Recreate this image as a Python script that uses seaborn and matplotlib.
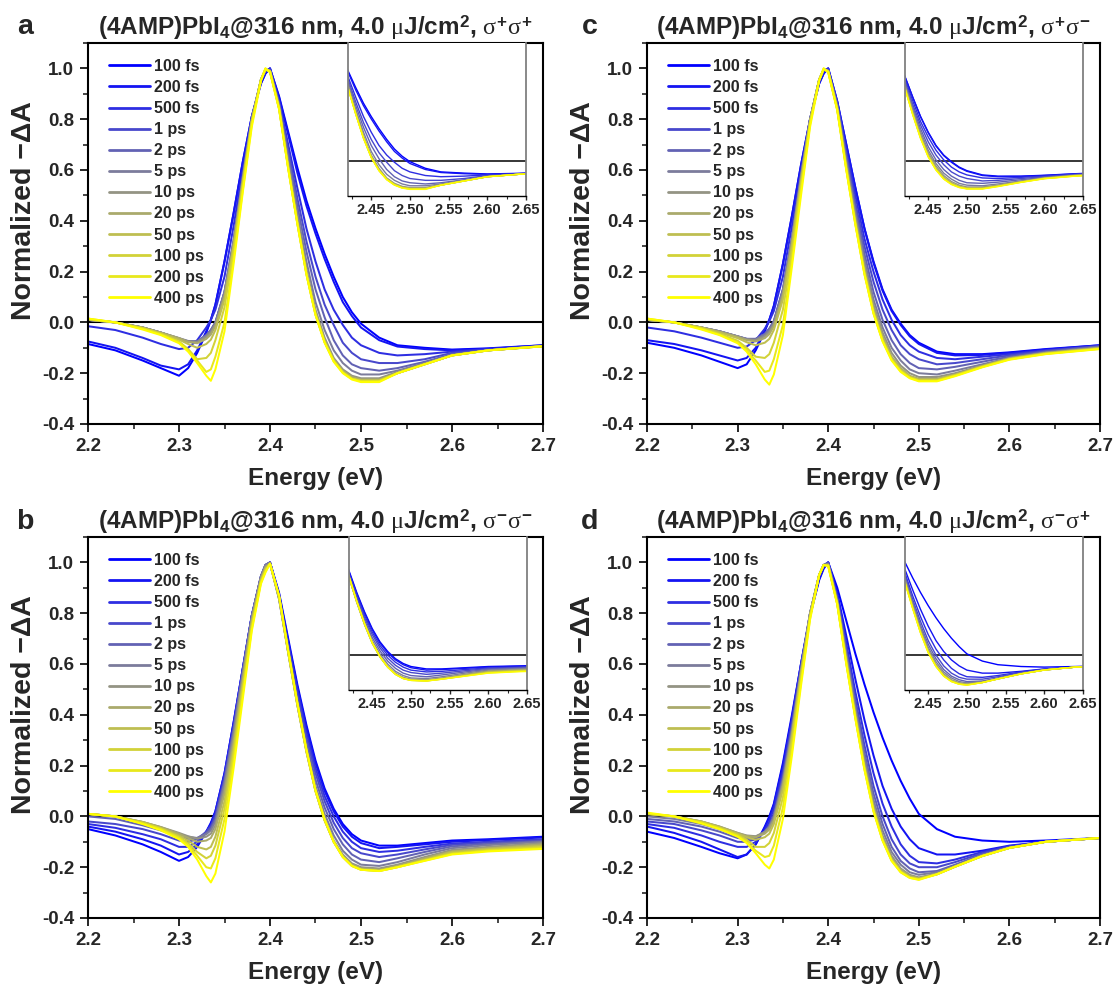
import matplotlib
matplotlib.use("Agg")
import matplotlib.pyplot as plt
import numpy as np
import pandas as pd
import seaborn as sns
from matplotlib.ticker import MultipleLocator, FormatStrFormatter

# ---------------- data ----------------
energy = [2.20, 2.23, 2.26, 2.28, 2.30, 2.31, 2.32, 2.33, 2.335, 2.34, 2.35, 2.36, 2.37,
          2.38, 2.39, 2.395, 2.40, 2.41, 2.42, 2.43, 2.44, 2.45, 2.46, 2.47, 2.48, 2.49,
          2.50, 2.52, 2.54, 2.57, 2.60, 2.64, 2.70]

delays = ["100 fs", "200 fs", "500 fs", "1 ps", "2 ps", "5 ps", "10 ps", "20 ps",
          "50 ps", "100 ps", "200 ps", "400 ps"]

delay_colors = ["#0000ff", "#1414f2", "#2e2ee2", "#4848cc", "#6262b4", "#7c7c9c",
                "#949484", "#aaaa6c", "#bebe52", "#d2d238", "#e8e81c", "#ffff00"]

# panel a: sigma+ sigma+
spec_a = [
    [-0.085, -0.11, -0.15, -0.18, -0.21, -0.18, -0.12, -0.04, 0.01, 0.07, 0.24, 0.43, 0.63, 0.81, 0.94, 0.98, 1.00, 0.89, 0.75, 0.61, 0.48, 0.37, 0.27, 0.18, 0.10, 0.04, -0.005, -0.06, -0.09, -0.10, -0.107, -0.102, -0.09],
    [-0.075, -0.10, -0.14, -0.17, -0.185, -0.165, -0.11, -0.035, 0.01, 0.07, 0.24, 0.43, 0.63, 0.81, 0.94, 0.98, 1.00, 0.885, 0.74, 0.59, 0.46, 0.35, 0.25, 0.16, 0.08, 0.025, -0.02, -0.07, -0.095, -0.105, -0.11, -0.104, -0.09],
    [-0.015, -0.03, -0.06, -0.085, -0.105, -0.10, -0.07, -0.02, 0.01, 0.05, 0.18, 0.38, 0.60, 0.81, 0.95, 0.99, 1.00, 0.87, 0.70, 0.53, 0.37, 0.24, 0.13, 0.05, -0.01, -0.06, -0.09, -0.12, -0.13, -0.125, -0.115, -0.105, -0.092],
    [0.01, 0.0, -0.02, -0.04, -0.065, -0.075, -0.075, -0.05, -0.03, 0.0, 0.12, 0.32, 0.57, 0.80, 0.95, 0.99, 0.995, 0.865, 0.68, 0.49, 0.32, 0.18, 0.07, -0.01, -0.08, -0.12, -0.145, -0.16, -0.16, -0.145, -0.12, -0.108, -0.093],
    [0.01, 0.0, -0.02, -0.04, -0.065, -0.075, -0.075, -0.05, -0.03, 0.0, 0.12, 0.32, 0.57, 0.80, 0.955, 0.995, 0.99, 0.86, 0.66, 0.46, 0.28, 0.13, 0.02, -0.07, -0.13, -0.165, -0.18, -0.19, -0.18, -0.155, -0.125, -0.11, -0.093],
    [0.01, 0.0, -0.02, -0.04, -0.062, -0.073, -0.075, -0.052, -0.032, -0.002, 0.12, 0.32, 0.57, 0.80, 0.955, 0.995, 0.99, 0.855, 0.64, 0.43, 0.24, 0.08, -0.03, -0.11, -0.16, -0.19, -0.205, -0.205, -0.19, -0.16, -0.128, -0.11, -0.093],
    [0.01, 0.0, -0.02, -0.04, -0.062, -0.075, -0.078, -0.058, -0.04, -0.008, 0.11, 0.31, 0.56, 0.80, 0.955, 0.995, 0.99, 0.85, 0.625, 0.41, 0.21, 0.05, -0.06, -0.14, -0.185, -0.21, -0.22, -0.22, -0.195, -0.163, -0.13, -0.11, -0.093],
    [0.01, 0.0, -0.02, -0.04, -0.062, -0.077, -0.082, -0.065, -0.048, -0.015, 0.10, 0.30, 0.55, 0.79, 0.955, 0.995, 0.99, 0.845, 0.615, 0.40, 0.20, 0.04, -0.07, -0.145, -0.19, -0.215, -0.225, -0.225, -0.20, -0.165, -0.13, -0.11, -0.093],
    [0.012, 0.0, -0.022, -0.042, -0.068, -0.085, -0.10, -0.085, -0.068, -0.03, 0.09, 0.30, 0.55, 0.79, 0.955, 0.995, 0.99, 0.845, 0.61, 0.395, 0.195, 0.035, -0.075, -0.15, -0.195, -0.22, -0.228, -0.228, -0.20, -0.165, -0.13, -0.11, -0.094],
    [0.012, 0.0, -0.022, -0.045, -0.075, -0.105, -0.145, -0.14, -0.12, -0.07, 0.06, 0.28, 0.54, 0.79, 0.955, 0.995, 0.99, 0.84, 0.61, 0.39, 0.19, 0.03, -0.078, -0.152, -0.197, -0.222, -0.23, -0.23, -0.20, -0.165, -0.13, -0.11, -0.094],
    [0.015, 0.0, -0.025, -0.047, -0.078, -0.11, -0.15, -0.195, -0.185, -0.135, 0.0, 0.25, 0.52, 0.78, 0.955, 1.0, 0.985, 0.84, 0.605, 0.39, 0.19, 0.03, -0.078, -0.152, -0.197, -0.222, -0.232, -0.232, -0.20, -0.165, -0.13, -0.11, -0.094],
    [0.015, 0.0, -0.028, -0.05, -0.082, -0.115, -0.16, -0.21, -0.23, -0.185, -0.035, 0.23, 0.51, 0.77, 0.95, 1.0, 0.985, 0.84, 0.605, 0.39, 0.19, 0.03, -0.08, -0.155, -0.20, -0.225, -0.235, -0.235, -0.20, -0.165, -0.13, -0.11, -0.094],
]

# panel b: sigma- sigma-
spec_b = [
    [-0.05, -0.075, -0.11, -0.14, -0.175, -0.16, -0.12, -0.06, -0.025, 0.02, 0.17, 0.37, 0.58, 0.79, 0.94, 0.985, 1.0, 0.88, 0.70, 0.52, 0.36, 0.22, 0.11, 0.03, -0.03, -0.07, -0.095, -0.115, -0.115, -0.105, -0.095, -0.09, -0.08],
    [-0.04, -0.06, -0.09, -0.115, -0.15, -0.14, -0.11, -0.06, -0.03, 0.02, 0.17, 0.37, 0.58, 0.79, 0.94, 0.985, 1.0, 0.875, 0.69, 0.51, 0.35, 0.21, 0.10, 0.02, -0.04, -0.08, -0.105, -0.125, -0.12, -0.11, -0.10, -0.093, -0.083],
    [-0.03, -0.045, -0.07, -0.09, -0.12, -0.12, -0.10, -0.06, -0.035, 0.01, 0.16, 0.36, 0.58, 0.79, 0.945, 0.99, 1.0, 0.87, 0.68, 0.50, 0.33, 0.19, 0.08, 0.0, -0.06, -0.10, -0.125, -0.14, -0.135, -0.12, -0.107, -0.10, -0.09],
    [-0.02, -0.03, -0.05, -0.07, -0.095, -0.10, -0.09, -0.06, -0.04, 0.0, 0.15, 0.35, 0.57, 0.79, 0.945, 0.99, 1.0, 0.865, 0.67, 0.48, 0.31, 0.17, 0.06, -0.025, -0.085, -0.125, -0.145, -0.16, -0.15, -0.13, -0.112, -0.103, -0.093],
    [0.0, -0.01, -0.035, -0.055, -0.08, -0.088, -0.085, -0.065, -0.048, -0.01, 0.14, 0.34, 0.57, 0.79, 0.945, 0.99, 1.0, 0.86, 0.66, 0.46, 0.29, 0.145, 0.035, -0.05, -0.11, -0.15, -0.17, -0.18, -0.165, -0.14, -0.118, -0.108, -0.097],
    [0.01, 0.0, -0.025, -0.045, -0.07, -0.08, -0.085, -0.07, -0.055, -0.02, 0.13, 0.33, 0.56, 0.785, 0.945, 0.99, 1.0, 0.855, 0.65, 0.45, 0.27, 0.12, 0.01, -0.075, -0.135, -0.17, -0.19, -0.195, -0.18, -0.15, -0.125, -0.113, -0.10],
    [0.01, 0.0, -0.022, -0.042, -0.065, -0.078, -0.088, -0.08, -0.068, -0.035, 0.11, 0.31, 0.55, 0.78, 0.94, 0.985, 0.995, 0.855, 0.645, 0.44, 0.26, 0.105, -0.01, -0.095, -0.15, -0.185, -0.20, -0.205, -0.19, -0.16, -0.132, -0.12, -0.105],
    [0.01, 0.0, -0.022, -0.042, -0.068, -0.085, -0.10, -0.095, -0.085, -0.05, 0.09, 0.29, 0.53, 0.77, 0.935, 0.98, 0.995, 0.86, 0.645, 0.44, 0.255, 0.10, -0.015, -0.10, -0.155, -0.19, -0.205, -0.21, -0.195, -0.165, -0.137, -0.125, -0.11],
    [0.01, 0.0, -0.022, -0.045, -0.075, -0.095, -0.12, -0.13, -0.12, -0.08, 0.06, 0.27, 0.52, 0.76, 0.93, 0.975, 0.995, 0.86, 0.645, 0.44, 0.255, 0.10, -0.015, -0.10, -0.158, -0.193, -0.208, -0.213, -0.198, -0.17, -0.14, -0.128, -0.115],
    [0.01, 0.0, -0.025, -0.048, -0.08, -0.105, -0.14, -0.165, -0.155, -0.115, 0.03, 0.25, 0.50, 0.75, 0.925, 0.97, 0.995, 0.865, 0.65, 0.445, 0.26, 0.10, -0.015, -0.10, -0.16, -0.195, -0.21, -0.215, -0.20, -0.172, -0.145, -0.132, -0.12],
    [0.01, 0.0, -0.028, -0.05, -0.085, -0.112, -0.155, -0.20, -0.205, -0.165, -0.01, 0.22, 0.48, 0.74, 0.92, 0.965, 0.995, 0.865, 0.65, 0.445, 0.26, 0.10, -0.015, -0.10, -0.16, -0.195, -0.21, -0.215, -0.20, -0.174, -0.148, -0.135, -0.125],
    [0.01, 0.0, -0.03, -0.055, -0.09, -0.12, -0.17, -0.235, -0.26, -0.225, -0.06, 0.19, 0.46, 0.73, 0.915, 0.96, 0.995, 0.87, 0.655, 0.45, 0.265, 0.105, -0.01, -0.10, -0.16, -0.195, -0.21, -0.215, -0.20, -0.175, -0.15, -0.138, -0.128],
]

# panel c: sigma+ sigma-
spec_c = [
    [-0.08, -0.10, -0.13, -0.155, -0.18, -0.165, -0.11, -0.035, 0.01, 0.065, 0.23, 0.42, 0.62, 0.80, 0.94, 0.98, 1.0, 0.87, 0.70, 0.53, 0.37, 0.24, 0.13, 0.05, -0.005, -0.05, -0.08, -0.115, -0.125, -0.125, -0.118, -0.105, -0.09],
    [-0.07, -0.085, -0.11, -0.13, -0.15, -0.14, -0.10, -0.03, 0.01, 0.065, 0.23, 0.42, 0.62, 0.80, 0.94, 0.98, 1.0, 0.87, 0.70, 0.53, 0.37, 0.235, 0.125, 0.045, -0.01, -0.055, -0.085, -0.12, -0.13, -0.128, -0.12, -0.107, -0.09],
    [-0.02, -0.035, -0.06, -0.08, -0.10, -0.095, -0.07, -0.025, 0.005, 0.045, 0.18, 0.38, 0.60, 0.80, 0.95, 0.99, 1.0, 0.865, 0.68, 0.50, 0.33, 0.20, 0.09, 0.01, -0.05, -0.09, -0.115, -0.14, -0.145, -0.135, -0.125, -0.11, -0.092],
    [0.01, 0.0, -0.02, -0.035, -0.055, -0.065, -0.065, -0.045, -0.025, 0.005, 0.13, 0.33, 0.58, 0.80, 0.955, 0.995, 0.995, 0.86, 0.665, 0.47, 0.30, 0.16, 0.05, -0.03, -0.09, -0.125, -0.145, -0.165, -0.16, -0.145, -0.13, -0.112, -0.093],
    [0.01, 0.0, -0.02, -0.035, -0.055, -0.065, -0.065, -0.045, -0.025, 0.005, 0.13, 0.33, 0.58, 0.80, 0.955, 0.995, 0.99, 0.855, 0.65, 0.45, 0.27, 0.12, 0.01, -0.07, -0.125, -0.16, -0.18, -0.185, -0.175, -0.155, -0.135, -0.115, -0.095],
    [0.01, 0.0, -0.02, -0.035, -0.055, -0.065, -0.067, -0.048, -0.03, 0.0, 0.125, 0.33, 0.575, 0.80, 0.955, 0.995, 0.99, 0.85, 0.635, 0.43, 0.245, 0.09, -0.02, -0.10, -0.15, -0.185, -0.20, -0.205, -0.19, -0.165, -0.14, -0.118, -0.097],
    [0.01, 0.0, -0.02, -0.035, -0.055, -0.067, -0.07, -0.055, -0.038, -0.007, 0.115, 0.32, 0.57, 0.80, 0.955, 0.995, 0.99, 0.845, 0.625, 0.415, 0.225, 0.07, -0.04, -0.12, -0.17, -0.20, -0.215, -0.215, -0.20, -0.17, -0.14, -0.12, -0.10],
    [0.01, 0.0, -0.02, -0.037, -0.057, -0.07, -0.075, -0.062, -0.046, -0.015, 0.105, 0.31, 0.56, 0.79, 0.955, 0.995, 0.99, 0.84, 0.615, 0.40, 0.21, 0.055, -0.055, -0.135, -0.18, -0.21, -0.222, -0.222, -0.205, -0.172, -0.142, -0.12, -0.10],
    [0.01, 0.0, -0.02, -0.04, -0.062, -0.078, -0.09, -0.08, -0.065, -0.03, 0.09, 0.30, 0.55, 0.79, 0.955, 0.995, 0.99, 0.84, 0.61, 0.395, 0.20, 0.045, -0.065, -0.14, -0.185, -0.213, -0.225, -0.225, -0.207, -0.173, -0.143, -0.122, -0.102],
    [0.012, 0.0, -0.022, -0.045, -0.072, -0.10, -0.135, -0.14, -0.125, -0.08, 0.05, 0.27, 0.54, 0.79, 0.955, 0.995, 0.99, 0.84, 0.605, 0.39, 0.195, 0.04, -0.07, -0.145, -0.19, -0.215, -0.228, -0.228, -0.208, -0.175, -0.145, -0.123, -0.103],
    [0.015, 0.0, -0.025, -0.048, -0.078, -0.11, -0.15, -0.195, -0.19, -0.145, -0.01, 0.24, 0.52, 0.78, 0.955, 1.0, 0.985, 0.835, 0.60, 0.385, 0.19, 0.035, -0.072, -0.148, -0.192, -0.218, -0.23, -0.23, -0.21, -0.175, -0.145, -0.124, -0.104],
    [0.015, 0.0, -0.028, -0.05, -0.082, -0.115, -0.165, -0.225, -0.245, -0.205, -0.05, 0.22, 0.50, 0.77, 0.95, 1.0, 0.985, 0.835, 0.60, 0.385, 0.19, 0.035, -0.075, -0.15, -0.195, -0.22, -0.232, -0.232, -0.212, -0.177, -0.147, -0.125, -0.105],
]

# panel d: sigma- sigma+
spec_d = [
    [-0.06, -0.085, -0.12, -0.145, -0.165, -0.15, -0.11, -0.04, 0.0, 0.05, 0.21, 0.40, 0.60, 0.79, 0.93, 0.975, 1.0, 0.90, 0.77, 0.64, 0.52, 0.41, 0.31, 0.22, 0.14, 0.07, 0.01, -0.05, -0.08, -0.095, -0.10, -0.095, -0.085],
    [-0.04, -0.065, -0.10, -0.13, -0.16, -0.15, -0.11, -0.045, -0.005, 0.045, 0.20, 0.39, 0.60, 0.79, 0.935, 0.98, 1.0, 0.88, 0.71, 0.54, 0.38, 0.24, 0.12, 0.03, -0.04, -0.09, -0.125, -0.15, -0.15, -0.135, -0.115, -0.10, -0.085],
    [-0.03, -0.045, -0.075, -0.10, -0.12, -0.12, -0.10, -0.055, -0.02, 0.03, 0.18, 0.38, 0.60, 0.80, 0.945, 0.985, 1.0, 0.87, 0.68, 0.49, 0.32, 0.17, 0.05, -0.04, -0.11, -0.155, -0.18, -0.185, -0.17, -0.14, -0.117, -0.10, -0.085],
    [-0.02, -0.03, -0.055, -0.075, -0.10, -0.10, -0.09, -0.06, -0.035, 0.01, 0.16, 0.36, 0.59, 0.80, 0.95, 0.99, 1.0, 0.86, 0.66, 0.46, 0.28, 0.12, 0.0, -0.09, -0.15, -0.185, -0.20, -0.20, -0.18, -0.145, -0.12, -0.10, -0.085],
    [-0.01, -0.02, -0.04, -0.06, -0.085, -0.09, -0.085, -0.06, -0.04, 0.0, 0.15, 0.35, 0.58, 0.80, 0.95, 0.99, 0.995, 0.855, 0.645, 0.44, 0.25, 0.09, -0.03, -0.12, -0.175, -0.205, -0.22, -0.215, -0.19, -0.15, -0.122, -0.10, -0.085],
    [0.0, -0.01, -0.03, -0.05, -0.075, -0.082, -0.08, -0.06, -0.04, 0.0, 0.14, 0.34, 0.575, 0.80, 0.95, 0.99, 0.995, 0.85, 0.635, 0.425, 0.23, 0.065, -0.055, -0.14, -0.19, -0.22, -0.23, -0.22, -0.195, -0.152, -0.123, -0.10, -0.085],
    [0.01, 0.0, -0.02, -0.04, -0.065, -0.075, -0.078, -0.062, -0.045, -0.01, 0.13, 0.33, 0.57, 0.80, 0.95, 0.99, 0.99, 0.845, 0.625, 0.41, 0.21, 0.045, -0.075, -0.155, -0.205, -0.23, -0.24, -0.225, -0.197, -0.155, -0.124, -0.10, -0.085],
    [0.01, 0.0, -0.02, -0.04, -0.065, -0.077, -0.082, -0.068, -0.052, -0.017, 0.12, 0.32, 0.565, 0.80, 0.95, 0.99, 0.99, 0.84, 0.615, 0.40, 0.20, 0.035, -0.085, -0.165, -0.21, -0.235, -0.243, -0.227, -0.198, -0.156, -0.124, -0.10, -0.085],
    [0.01, 0.0, -0.02, -0.042, -0.068, -0.082, -0.092, -0.082, -0.068, -0.03, 0.105, 0.31, 0.56, 0.79, 0.95, 0.99, 0.99, 0.84, 0.61, 0.395, 0.195, 0.03, -0.09, -0.17, -0.215, -0.238, -0.245, -0.228, -0.198, -0.156, -0.124, -0.10, -0.085],
    [0.01, 0.0, -0.022, -0.045, -0.072, -0.092, -0.12, -0.12, -0.105, -0.065, 0.075, 0.29, 0.545, 0.79, 0.95, 0.99, 0.99, 0.835, 0.605, 0.39, 0.19, 0.025, -0.092, -0.172, -0.217, -0.24, -0.247, -0.228, -0.198, -0.156, -0.124, -0.10, -0.085],
    [0.012, 0.0, -0.025, -0.048, -0.076, -0.10, -0.135, -0.16, -0.155, -0.115, 0.035, 0.26, 0.53, 0.78, 0.95, 0.99, 0.985, 0.835, 0.60, 0.385, 0.185, 0.02, -0.095, -0.175, -0.22, -0.242, -0.248, -0.228, -0.198, -0.156, -0.124, -0.10, -0.085],
    [0.015, 0.0, -0.028, -0.05, -0.08, -0.105, -0.145, -0.19, -0.205, -0.17, -0.01, 0.24, 0.515, 0.775, 0.95, 0.99, 0.985, 0.835, 0.60, 0.385, 0.185, 0.02, -0.095, -0.175, -0.22, -0.242, -0.25, -0.228, -0.198, -0.156, -0.124, -0.10, -0.085],
]

x_ticks = [2.2, 2.3, 2.4, 2.5, 2.6, 2.7]
y_ticks = [-0.4, -0.2, 0.0, 0.2, 0.4, 0.6, 0.8, 1.0]
inset_ticks = [2.45, 2.50, 2.55, 2.60, 2.65]

# ---------------- style ----------------
sns.set_theme(style="white")
plt.rcParams["font.family"] = ["Liberation Sans", "DejaVu Sans"]
plt.rcParams["font.weight"] = "bold"
plt.rcParams["axes.labelweight"] = "bold"
plt.rcParams["axes.titleweight"] = "bold"
plt.rcParams["mathtext.fontset"] = "custom"
plt.rcParams["mathtext.rm"] = "Liberation Serif:weight=normal"
plt.rcParams["mathtext.it"] = "Liberation Serif:weight=normal"
plt.rcParams["mathtext.bf"] = "Liberation Sans:weight=bold"
plt.rcParams["axes.unicode_minus"] = False

W, H = 1117, 989
fig = plt.figure(figsize=(W / 100, H / 100), dpi=100)


def rect(l, t, r, b):
    return [l / W, 1 - b / H, (r - l) / W, (b - t) / H]


def long_df(spec):
    rows = []
    for lab, vals in zip(delays, spec):
        for e, v in zip(energy, vals):
            rows.append((e, v, lab))
    return pd.DataFrame(rows, columns=["Energy", "dA", "Delay"])


panels = [
    ("a", r"$\sigma^{\mathbf{+}}\sigma^{\mathbf{+}}$", spec_a, (88, 43, 543, 424), (348, 43, 526, 196), (25, 27)),
    ("c", r"$\sigma^{\mathbf{+}}\sigma^{\mathbf{-}}$", spec_c, (647, 43, 1100, 424), (905, 43, 1083, 196), (590, 27)),
    ("b", r"$\sigma^{\mathbf{-}}\sigma^{\mathbf{-}}$", spec_b, (88, 537, 543, 918), (349, 537, 527, 690), (25, 522)),
    ("d", r"$\sigma^{\mathbf{-}}\sigma^{\mathbf{+}}$", spec_d, (647, 537, 1100, 918), (905, 537, 1083, 690), (590, 522)),
]

pal = dict(zip(delays, delay_colors))

for letter, pol, spec, mrect, irect, lpos in panels:
    df = long_df(spec)
    ax = fig.add_axes(rect(*mrect))
    ax.axhline(0, color="black", lw=1.5, zorder=1)
    sns.lineplot(data=df, x="Energy", y="dA", hue="Delay", hue_order=delays,
                 palette=pal, estimator=None, sort=False, lw=1.45, ax=ax)
    ax.set_xlim(2.2, 2.7)
    ax.set_ylim(-0.4, 1.1)
    ax.set_xticks(x_ticks)
    ax.set_yticks(y_ticks)
    ax.xaxis.set_minor_locator(MultipleLocator(0.05))
    ax.yaxis.set_minor_locator(MultipleLocator(0.1))
    ax.xaxis.set_major_formatter(FormatStrFormatter("%.1f"))
    ax.yaxis.set_major_formatter(FormatStrFormatter("%.1f"))
    ax.tick_params(which="major", direction="out", length=6, width=1.4,
                   labelsize=13.5, bottom=True, left=True, top=False, right=False, pad=4)
    ax.tick_params(which="minor", direction="out", length=3.5, width=1.2,
                   bottom=True, left=True, top=False, right=False)
    for s in ax.spines.values():
        s.set_color("black")
        s.set_linewidth(1.5)
    ax.set_xlabel("Energy (eV)", fontsize=17.5)
    ax.xaxis.set_label_coords(0.5, -0.112)
    ax.set_ylabel("Normalized \u2212\u0394A", fontsize=20.5)
    ax.yaxis.set_label_coords(-0.112, 0.56)
    ax.set_title(r"(4AMP)PbI$_\mathbf{4}$@316 nm, 4.0 $\mu$J/cm$^\mathbf{2}$, " + pol,
                 fontsize=17.5, pad=6)
    h, l = ax.get_legend_handles_labels()
    leg = ax.legend(h, l, loc="upper left", bbox_to_anchor=(0.046, 0.958), frameon=False,
                    fontsize=11.5, handlelength=2.6, handletextpad=0.22,
                    labelspacing=0.38, borderaxespad=0, borderpad=0)
    for ln in leg.get_lines():
        ln.set_linewidth(2.0)
    fig.text(lpos[0] / W, 1 - lpos[1] / H, letter, fontsize=20.5, fontweight="bold",
             ha="center", va="center")

    axi = fig.add_axes(rect(*irect))
    axi.set_zorder(ax.get_zorder() + 1)
    axi.set_facecolor("white")
    axi.axhline(0, color="black", lw=1.1, zorder=1)
    sns.lineplot(data=df, x="Energy", y="dA", hue="Delay", hue_order=delays,
                 palette=pal, estimator=None, sort=False, lw=1.0, ax=axi, legend=False)
    axi.set_xlim(2.42, 2.65)
    axi.set_ylim(-0.29, 0.98)
    axi.set_xticks(inset_ticks)
    axi.xaxis.set_minor_locator(MultipleLocator(0.025))
    axi.xaxis.set_major_formatter(FormatStrFormatter("%.2f"))
    axi.set_yticks([])
    axi.set_xlabel("")
    axi.set_ylabel("")
    axi.tick_params(which="major", direction="out", length=3, width=1.0,
                    labelsize=10.5, bottom=True, pad=2)
    axi.tick_params(which="minor", direction="out", length=2, width=0.8, bottom=True)
    axi.spines["left"].set_color("#808080")
    axi.spines["right"].set_color("#808080")
    axi.spines["left"].set_linewidth(1.3)
    axi.spines["right"].set_linewidth(1.3)
    axi.spines["bottom"].set_color("black")
    axi.spines["bottom"].set_linewidth(1.0)
    axi.spines["top"].set_visible(False)

fig.savefig("out.png", dpi=100)
